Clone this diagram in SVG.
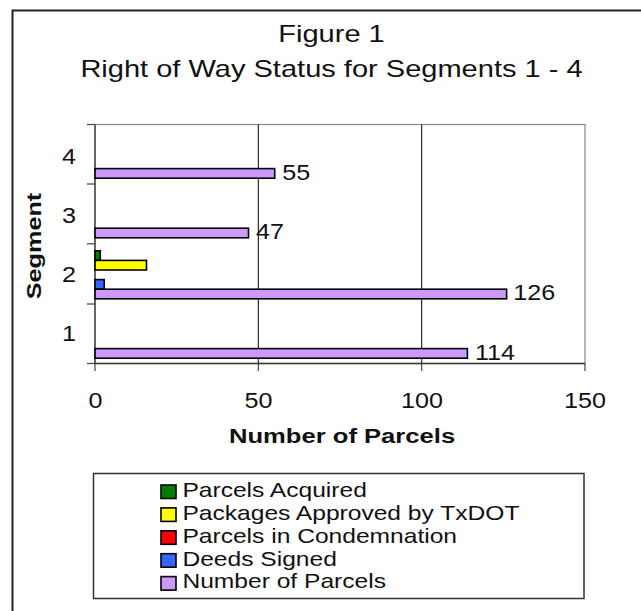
<svg xmlns="http://www.w3.org/2000/svg" width="641" height="611" viewBox="0 0 641 611">
<style>
text{font-family:"Liberation Sans",Arial,sans-serif;fill:#111}
.title{font-size:24px}
.num{font-size:21.5px}
.axt{font-size:21px;font-weight:bold}
.leg{font-size:20.5px}
.bar{stroke:#000;stroke-width:1.6}
.p{fill:#CC99FF}.g{fill:#008000}.y{fill:#FFFF00}.r{fill:#FF0000}.b{fill:#3366FF}
.grid{stroke:#000;stroke-width:1}
.tick{stroke:#444;stroke-width:1.2}
</style>
<rect x="0" y="0" width="641" height="611" fill="#fff"/>
<rect x="12.5" y="10.5" width="700" height="700" fill="#fff" stroke="#222" stroke-width="2"/>
<g id="title">
<text class="title" text-anchor="middle" transform="translate(331.5,42) scale(1.21,1)">Figure 1</text>
<text class="title" text-anchor="middle" transform="translate(331.5,77) scale(1.21,1)">Right of Way Status for Segments 1 - 4</text>
</g>
<g id="plot">
<rect x="95" y="124.5" width="490" height="239" fill="#fff" stroke="#888" stroke-width="1.2"/>
<line class="grid" x1="258.3" y1="124.5" x2="258.3" y2="363.5"/>
<line class="grid" x1="421.7" y1="124.5" x2="421.7" y2="363.5"/>
<line x1="95" y1="124.5" x2="95" y2="363.5" stroke="#444" stroke-width="1.4"/>
<line x1="95" y1="363.5" x2="585" y2="363.5" stroke="#333" stroke-width="1.4"/>
<g id="ticks">
<line class="tick" x1="87" y1="124.5" x2="95" y2="124.5"/>
<line class="tick" x1="87" y1="184" x2="95" y2="184"/>
<line class="tick" x1="87" y1="243.8" x2="95" y2="243.8"/>
<line class="tick" x1="87" y1="304" x2="95" y2="304"/>
<line class="tick" x1="87" y1="363.5" x2="95" y2="363.5"/>
<line class="tick" x1="95" y1="363.5" x2="95" y2="371"/>
<line class="tick" x1="258.3" y1="363.5" x2="258.3" y2="371"/>
<line class="tick" x1="421.7" y1="363.5" x2="421.7" y2="371"/>
<line class="tick" x1="585" y1="363.5" x2="585" y2="371"/>
</g>
</g>
<g id="bars">
<rect class="bar p" x="95" y="168.6" width="179.7" height="9.6"/>
<rect class="bar p" x="95" y="228.2" width="153.5" height="9.6"/>
<rect class="bar g" x="95" y="250.8" width="5.3" height="9.6"/>
<rect class="bar y" x="95" y="260.4" width="51.5" height="9.6"/>
<rect class="bar b" x="95" y="279.6" width="9.2" height="9.6"/>
<rect class="bar p" x="95" y="289.2" width="411.6" height="9.6"/>
<rect class="bar p" x="95" y="348.6" width="372.4" height="9.6"/>
</g>
<g id="data-labels">
<text class="num" transform="translate(282.2,180) scale(1.17,1)">55</text>
<text class="num" transform="translate(256,239.3) scale(1.17,1)">47</text>
<text class="num" transform="translate(513.3,300) scale(1.17,1)">126</text>
<text class="num" transform="translate(475,359.8) scale(1.17,1)">114</text>
</g>
<g id="y-labels">
<text class="num" text-anchor="middle" transform="translate(69,164) scale(1.17,1)">4</text>
<text class="num" text-anchor="middle" transform="translate(69,223.3) scale(1.17,1)">3</text>
<text class="num" text-anchor="middle" transform="translate(69,281.7) scale(1.17,1)">2</text>
<text class="num" text-anchor="middle" transform="translate(69,341) scale(1.17,1)">1</text>
</g>
<g id="x-labels">
<text class="num" text-anchor="middle" transform="translate(95.5,408) scale(1.17,1)">0</text>
<text class="num" text-anchor="middle" transform="translate(258.5,408) scale(1.17,1)">50</text>
<text class="num" text-anchor="middle" transform="translate(422,408) scale(1.17,1)">100</text>
<text class="num" text-anchor="middle" transform="translate(585,408) scale(1.17,1)">150</text>
</g>
<g id="axis-titles">
<text class="axt" text-anchor="middle" transform="translate(342,443.3) scale(1.22,1)">Number of Parcels</text>
<text class="axt" text-anchor="middle" transform="translate(40.5,246) rotate(-90) scale(1.2,1)">Segment</text>
</g>
<g id="legend">
<rect x="93.5" y="473.5" width="490.5" height="125" fill="#fff" stroke="#333" stroke-width="1.5"/>
<rect class="bar g" x="161" y="485" width="15" height="13.5"/>
<rect class="bar y" x="161" y="507.9" width="15" height="13.5"/>
<rect class="bar r" x="161" y="530.8" width="15" height="13.5"/>
<rect class="bar b" x="161" y="553.7" width="15" height="13.5"/>
<rect class="bar p" x="161" y="576.6" width="15" height="13.5"/>
<text class="leg" transform="translate(182.4,496.8) scale(1.2,1)">Parcels Acquired</text>
<text class="leg" transform="translate(182.4,519.7) scale(1.2,1)">Packages Approved by TxDOT</text>
<text class="leg" transform="translate(182.4,542.6) scale(1.2,1)">Parcels in Condemnation</text>
<text class="leg" transform="translate(182.4,565.5) scale(1.2,1)">Deeds Signed</text>
<text class="leg" transform="translate(182.4,588.4) scale(1.2,1)">Number of Parcels</text>
</g>
</svg>
